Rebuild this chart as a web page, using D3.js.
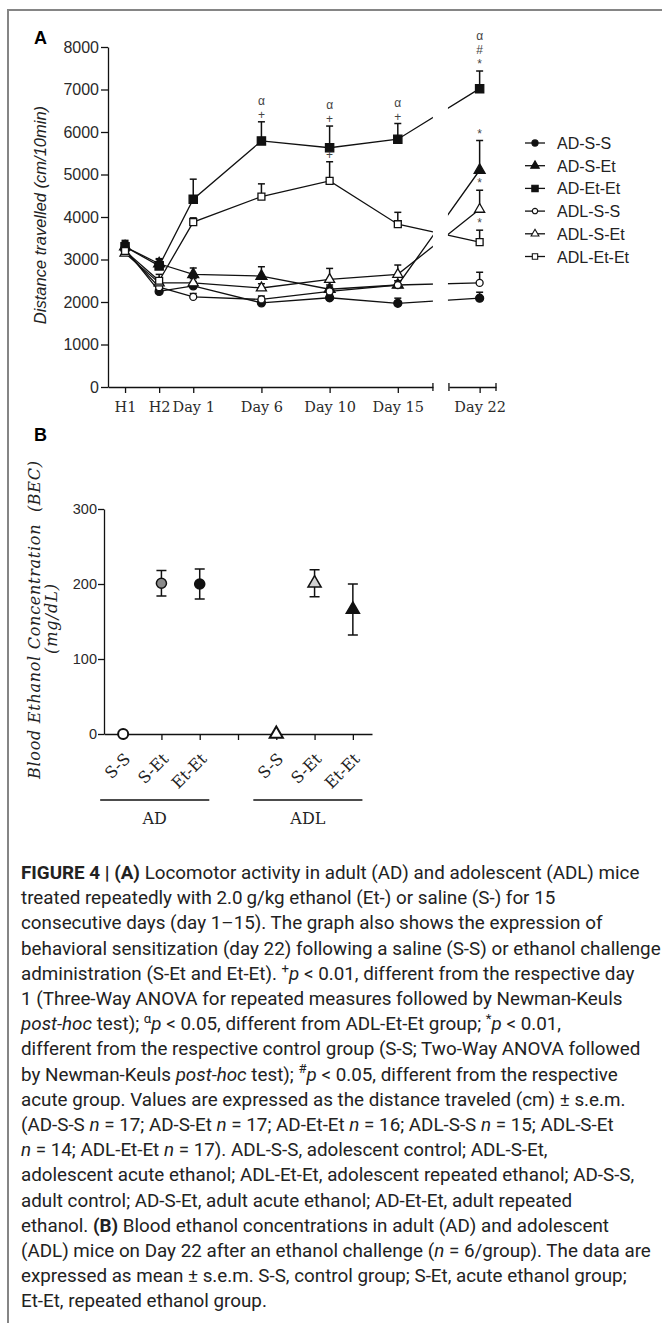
<!DOCTYPE html>
<html>
<head>
<meta charset="utf-8">
<script src="https://cdn.jsdelivr.net/npm/d3@7"></script>
<style>
    body { margin: 0; background: #fff; }
    svg { display: block; }
    .axis path, .axis line { stroke: #111; stroke-width: 1.3; }
    .axis text { fill: #2a2a2a; }
    .caption text { white-space: pre; }
</style>
</head>
<body>
<div id="figure"></div>
<script>
// ---------- Panel A data: distance travelled (cm/10min) ----------
var timeLabels = ["H1", "H2", "Day 1", "Day 6", "Day 10", "Day 15", "Day 22"];
var timeSlots = [1, 2, 3, 5, 7, 9, 11.4];

var groupNames = ["AD-S-S", "AD-S-Et", "AD-Et-Et", "ADL-S-S", "ADL-S-Et", "ADL-Et-Et"];

var adSS       = [3250, 2250, 2380, 1980, 2100, 1970, 2090];
var adSSErr    = [120, 80, 100, 80, 80, 120, 140];
var adSEt      = [3300, 2900, 2650, 2610, 2300, 2400, 5100];
var adSEtErr   = [120, 120, 150, 220, 100, 100, 700];
var adEtEt     = [3300, 2850, 4420, 5790, 5630, 5830, 7020];
var adEtEtErr  = [150, 150, 470, 450, 510, 370, 415];
var adlSS      = [3200, 2350, 2120, 2060, 2250, 2400, 2450];
var adlSSErr   = [100, 100, 80, 80, 100, 100, 250];
var adlSEt     = [3150, 2450, 2450, 2330, 2530, 2650, 4180];
var adlSEtErr  = [100, 100, 100, 100, 260, 220, 450];
var adlEtEt    = [3200, 2500, 3880, 4480, 4850, 3830, 3410];
var adlEtEtErr = [100, 150, 100, 300, 450, 280, 280];

var yTicksA = [0, 1000, 2000, 3000, 4000, 5000, 6000, 7000, 8000];

// significance marks, bottom to top
var sigMarks = [
    { group: "AD-Et-Et", time: "Day 6", marks: ["+", "α"] },
    { group: "AD-Et-Et", time: "Day 10", marks: ["+", "α"] },
    { group: "AD-Et-Et", time: "Day 15", marks: ["+", "α"] },
    { group: "AD-Et-Et", time: "Day 22", marks: ["*", "#", "α"] },
    { group: "ADL-Et-Et", time: "Day 10", marks: ["+"] },
    { group: "AD-S-Et", time: "Day 22", marks: ["*"] },
    { group: "ADL-S-Et", time: "Day 22", marks: ["*"] },
    { group: "ADL-Et-Et", time: "Day 22", marks: ["*"] }
];

// ---------- Panel B data: blood ethanol concentration (mg/dL) ----------
var becGroups = ["AD", "ADL"];
var becConditions = ["S-S", "S-Et", "Et-Et"];
var becAD = [0, 201, 200];
var becADErr = [0, 17, 20];
var becADL = [0, 201, 166];
var becADLErr = [0, 18, 34];
var yTicksB = [0, 100, 200, 300];

// ---------- Caption ----------
var captionLines = [
    "<b>FIGURE 4 | (A)</b> Locomotor activity in adult (AD) and adolescent (ADL) mice",
    "treated repeatedly with 2.0\u2009g/kg ethanol (Et-) or saline (S-) for 15",
    "consecutive days (day 1\u201315). The graph also shows the expression of",
    "behavioral sensitization (day 22) following a saline (S-S) or ethanol challenge",
    "administration (S-Et and Et-Et). <sup>+</sup><i>p</i> < 0.01, different from the respective day",
    "1 (Three-Way ANOVA for repeated measures followed by Newman-Keuls",
    "<i>post-hoc</i> test); <sup>\u03b1</sup><i>p</i> < 0.05, different from ADL-Et-Et group; <sup>*</sup><i>p</i> < 0.01,",
    "different from the respective control group (S-S; Two-Way ANOVA followed",
    "by Newman-Keuls <i>post-hoc</i> test); <sup>#</sup><i>p</i> < 0.05, different from the respective",
    "acute group. Values are expressed as the distance traveled (cm) \u00b1 s.e.m.",
    "(AD-S-S <i>n</i> = 17; AD-S-Et <i>n</i> = 17; AD-Et-Et <i>n</i> = 16; ADL-S-S <i>n</i> = 15; ADL-S-Et",
    "<i>n</i> = 14; ADL-Et-Et <i>n</i> = 17). ADL-S-S, adolescent control; ADL-S-Et,",
    "adolescent acute ethanol; ADL-Et-Et, adolescent repeated ethanol; AD-S-S,",
    "adult control; AD-S-Et, adult acute ethanol; AD-Et-Et, adult repeated",
    "ethanol. <b>(B)</b> Blood ethanol concentrations in adult (AD) and adolescent",
    "(ADL) mice on Day 22 after an ethanol challenge (<i>n</i> = 6/group). The data are",
    "expressed as mean \u00b1 s.e.m. S-S, control group; S-Et, acute ethanol group;",
    "Et-Et, repeated ethanol group."
];

var sans = "'Liberation Sans', Arial, sans-serif";
var serif = "'DejaVu Serif', 'Liberation Serif', serif";

var svgWidth = 662;
var svgHeight = 1323;

var svg = d3.select("#figure")
    .append("svg")
    .attr("width", svgWidth)
    .attr("height", svgHeight);

// frame around the figure (top and left edges)
svg.append("path")
    .attr("d", "M8," + svgHeight + "V10H" + svgWidth)
    .attr("fill", "none")
    .attr("stroke", "#858585")
    .attr("stroke-width", 2);

// =================== PANEL A ===================
var seriesA = {
    "AD-S-S": [adSS, adSSErr],
    "AD-S-Et": [adSEt, adSEtErr],
    "AD-Et-Et": [adEtEt, adEtEtErr],
    "ADL-S-S": [adlSS, adlSSErr],
    "ADL-S-Et": [adlSEt, adlSEtErr],
    "ADL-Et-Et": [adlEtEt, adlEtEtErr]
};

// marker shape per group
var styleA = {
    "AD-S-S": { type: d3.symbolCircle, filled: true, size: 50 },
    "AD-S-Et": { type: d3.symbolTriangle, filled: true, size: 52 },
    "AD-Et-Et": { type: d3.symbolSquare, filled: true, size: 68 },
    "ADL-S-S": { type: d3.symbolCircle, filled: false, size: 38 },
    "ADL-S-Et": { type: d3.symbolTriangle, filled: false, size: 44 },
    "ADL-Et-Et": { type: d3.symbolSquare, filled: false, size: 48 }
};

var breakFrom = 10.03;
var breakTo = 10.5;

var xA = d3.scaleLinear().domain([0.5, 11.88]).range([108, 496]);
var yA = d3.scaleLinear().domain([0, 8000]).range([387, 47]);

var gA = svg.append("g");

gA.append("text")
    .attr("x", 34)
    .attr("y", 44)
    .attr("font-family", sans)
    .attr("font-weight", "bold")
    .attr("font-size", 18)
    .text("A");

// y axis
gA.append("g")
    .attr("class", "axis")
    .attr("transform", "translate(108,0)")
    .call(d3.axisLeft(yA)
        .tickValues(yTicksA)
        .tickFormat(d3.format("d"))
        .tickSize(7)
        .tickSizeOuter(0)
        .tickPadding(2))
    .selectAll("text")
    .attr("font-family", sans)
    .attr("font-size", 16);

// x axis in two pieces with a break before Day 22
var xSeg1 = xA.copy().domain([0.5, breakFrom]).range([xA(0.5), xA(breakFrom)]);
var xSeg2 = xA.copy().domain([breakTo, 11.88]).range([xA(breakTo), xA(11.88)]);

[[xSeg1, timeSlots.slice(0, 6), timeLabels.slice(0, 6)],
 [xSeg2, timeSlots.slice(6), timeLabels.slice(6)]].forEach(function (seg) {
    var ax = gA.append("g")
        .attr("class", "axis")
        .attr("transform", "translate(0,387)")
        .call(d3.axisBottom(seg[0])
            .tickValues(seg[1])
            .tickFormat(function (d, i) { return seg[2][i]; })
            .tickSize(6)
            .tickSizeOuter(0)
            .tickPadding(9));
    ax.selectAll("text")
        .attr("font-family", serif)
        .attr("font-size", 14.5);
    // little end marks at the break
    seg[0].range().forEach(function (px, k) {
        if (seg[0] === xSeg1 && k === 0) return;
        ax.append("line")
            .attr("x1", px).attr("x2", px)
            .attr("y1", -4).attr("y2", 4);
    });
});

gA.append("text")
    .attr("transform", "translate(46,215) rotate(-90)")
    .attr("text-anchor", "middle")
    .attr("font-family", sans)
    .attr("font-style", "italic")
    .attr("font-size", 16.5)
    .attr("fill", "#222")
    .text("Distance travelled (cm/10min)");

// clip the connecting lines at the axis break
var clip = svg.append("defs").append("clipPath").attr("id", "breakClip");
clip.append("rect").attr("x", 0).attr("y", 0).attr("width", xA(breakFrom)).attr("height", 420);
clip.append("rect").attr("x", xA(breakTo) - 1).attr("y", 0).attr("width", 300).attr("height", 420);

var lineA = d3.line()
    .x(function (d, i) { return xA(timeSlots[i]); })
    .y(function (d) { return yA(d); });

var linesGroup = gA.append("g").attr("clip-path", "url(#breakClip)");

groupNames.forEach(function (name) {
    linesGroup.append("path")
        .datum(seriesA[name][0])
        .attr("d", lineA)
        .attr("fill", "none")
        .attr("stroke", "#111")
        .attr("stroke-width", 1.3);
});

// error bars (upper only)
groupNames.forEach(function (name) {
    var vals = seriesA[name][0];
    var errs = seriesA[name][1];
    vals.forEach(function (v, i) {
        var cx = xA(timeSlots[i]);
        var top = yA(v + errs[i]);
        gA.append("line")
            .attr("x1", cx).attr("x2", cx)
            .attr("y1", yA(v)).attr("y2", top)
            .attr("stroke", "#111").attr("stroke-width", 1.5);
        gA.append("line")
            .attr("x1", cx - 3.5).attr("x2", cx + 3.5)
            .attr("y1", top).attr("y2", top)
            .attr("stroke", "#111").attr("stroke-width", 1.5);
    });
});

// markers
groupNames.forEach(function (name) {
    var st = styleA[name];
    gA.append("g").selectAll("path")
        .data(seriesA[name][0])
        .enter()
        .append("path")
        .attr("transform", function (d, i) { return "translate(" + xA(timeSlots[i]) + "," + yA(d) + ")"; })
        .attr("d", d3.symbol().type(st.type).size(st.size))
        .attr("fill", st.filled ? "#111" : "#fff")
        .attr("stroke", "#111")
        .attr("stroke-width", 1.3);
});

// significance symbols
sigMarks.forEach(function (s) {
    var i = timeLabels.indexOf(s.time);
    var v = seriesA[s.group][0][i] + seriesA[s.group][1][i];
    s.marks.forEach(function (m, k) {
        gA.append("text")
            .attr("x", xA(timeSlots[i]))
            .attr("y", yA(v) - 7 - k * 14)
            .attr("text-anchor", "middle")
            .attr("dominant-baseline", "central")
            .attr("font-family", sans)
            .attr("font-size", 12)
            .attr("fill", "#444")
            .text(m);
    });
});

// legend
var legend = gA.append("g").attr("transform", "translate(525,143)");
groupNames.forEach(function (name, i) {
    var row = legend.append("g").attr("transform", "translate(0," + (i * 22.7) + ")");
    row.append("line")
        .attr("x1", 0).attr("x2", 20)
        .attr("stroke", "#111").attr("stroke-width", 1.3);
    row.append("path")
        .attr("transform", "translate(10,0)")
        .attr("d", d3.symbol().type(styleA[name].type).size(styleA[name].size * 0.6))
        .attr("fill", styleA[name].filled ? "#111" : "#fff")
        .attr("stroke", "#111")
        .attr("stroke-width", 1.1);
    row.append("text")
        .attr("x", 32)
        .attr("y", 6)
        .attr("font-family", sans)
        .attr("font-size", 16)
        .attr("fill", "#222")
        .text(name);
});

// =================== PANEL B ===================
var becKeys = [];
becConditions.forEach(function (c) { becKeys.push("AD|" + c); });
becKeys.push("gap");
becConditions.forEach(function (c) { becKeys.push("ADL|" + c); });

var becValues = {};
becConditions.forEach(function (c, i) {
    becValues["AD|" + c] = [becAD[i], becADErr[i]];
    becValues["ADL|" + c] = [becADL[i], becADLErr[i]];
});

var xB = d3.scalePoint().domain(becKeys).range([104, 372]).padding(0.5);
var yB = d3.scaleLinear().domain([0, 300]).range([734, 509]);

var gB = svg.append("g");

gB.append("text")
    .attr("x", 34)
    .attr("y", 441)
    .attr("font-family", sans)
    .attr("font-weight", "bold")
    .attr("font-size", 18)
    .text("B");

gB.append("g")
    .attr("class", "axis")
    .attr("transform", "translate(104,0)")
    .call(d3.axisLeft(yB).tickValues(yTicksB).tickSize(6).tickSizeOuter(0).tickPadding(1))
    .selectAll("text")
    .attr("font-family", sans)
    .attr("font-size", 14.5);

gB.append("g")
    .attr("class", "axis")
    .attr("transform", "translate(0,734)")
    .call(d3.axisBottom(xB).tickSize(6).tickSizeOuter(0).tickFormat(""));

// rotated condition labels
becKeys.filter(function (k) { return k !== "gap"; }).forEach(function (k) {
    gB.append("text")
        .attr("transform", "translate(" + (xB(k) + 8) + ",760) rotate(-45)")
        .attr("text-anchor", "end")
        .attr("font-family", serif)
        .attr("font-size", 16)
        .attr("fill", "#222")
        .text(k.split("|")[1]);
});

// group brackets
becGroups.forEach(function (g) {
    var first = xB(g + "|" + becConditions[0]);
    var last = xB(g + "|" + becConditions[becConditions.length - 1]);
    var x0 = first - xB.step() * 0.6;
    var x1 = last + xB.step() * 0.25;
    gB.append("line")
        .attr("x1", x0).attr("x2", x1)
        .attr("y1", 800).attr("y2", 800)
        .attr("stroke", "#111").attr("stroke-width", 1.5);
    gB.append("text")
        .attr("x", (x0 + x1) / 2)
        .attr("y", 824)
        .attr("text-anchor", "middle")
        .attr("font-family", serif)
        .attr("font-size", 16)
        .attr("fill", "#222")
        .text(g);
});

// y label, two lines
gB.append("text")
    .attr("transform", "translate(40,620) rotate(-90)")
    .attr("text-anchor", "middle")
    .attr("font-family", serif)
    .attr("font-style", "italic")
    .attr("font-size", 16)
    .attr("fill", "#222")
    .attr("textLength", 318)
    .attr("lengthAdjust", "spacing")
    .style("white-space", "pre")
    .text("Blood Ethanol Concentration  (BEC)");

gB.append("text")
    .attr("transform", "translate(57,619) rotate(-90)")
    .attr("text-anchor", "middle")
    .attr("font-family", serif)
    .attr("font-style", "italic")
    .attr("font-size", 16)
    .attr("fill", "#222")
    .attr("textLength", 70)
    .attr("lengthAdjust", "spacing")
    .text("(mg/dL)");

// error bars and markers
var fillB = { "S-S": "#fff", "S-Et": "#8a8a8a", "Et-Et": "#111" };
var fillBAdl = { "S-S": "#fff", "S-Et": "#d2d2d2", "Et-Et": "#111" };

becKeys.filter(function (k) { return k !== "gap"; }).forEach(function (k) {
    var v = becValues[k][0];
    var e = becValues[k][1];
    var cx = xB(k);
    if (e > 0) {
        gB.append("line")
            .attr("x1", cx).attr("x2", cx)
            .attr("y1", yB(v - e)).attr("y2", yB(v + e))
            .attr("stroke", "#111").attr("stroke-width", 1.5);
        [v - e, v + e].forEach(function (ev) {
            gB.append("line")
                .attr("x1", cx - 5).attr("x2", cx + 5)
                .attr("y1", yB(ev)).attr("y2", yB(ev))
                .attr("stroke", "#111").attr("stroke-width", 1.5);
        });
    }
    var group = k.split("|")[0];
    var cond = k.split("|")[1];
    var isAD = group === "AD";
    gB.append("path")
        .attr("transform", "translate(" + cx + "," + yB(v) + ")")
        .attr("d", d3.symbol().type(isAD ? d3.symbolCircle : d3.symbolTriangle).size(isAD ? 80 : 75))
        .attr("fill", isAD ? fillB[cond] : fillBAdl[cond])
        .attr("stroke", "#111")
        .attr("stroke-width", cond === "S-S" ? 2 : 1.5);
});

// =================== CAPTION ===================
var caption = svg.append("g").attr("class", "caption");

function drawCaption(fontSize) {
    caption.selectAll("*").remove();
    caption
        .attr("font-family", "'Liberation Sans Narrow', Roboto, 'Liberation Sans', sans-serif")
        .attr("font-size", fontSize)
        .attr("fill", "#222");
    var shift = fontSize * 0.38;
    captionLines.forEach(function (line, i) {
        var t = caption.append("text")
            .attr("x", 21)
            .attr("y", 879 + i * 25.2);
        var bold = false, italic = false, sup = false, back = 0;
        line.split(/(<\/?(?:b|i|sup)>)/).forEach(function (part) {
            if (part === "<b>") bold = true;
            else if (part === "</b>") bold = false;
            else if (part === "<i>") italic = true;
            else if (part === "</i>") italic = false;
            else if (part === "<sup>") sup = true;
            else if (part === "</sup>") sup = false;
            else if (part.length) {
                var ts = t.append("tspan").text(part);
                if (bold) ts.attr("font-weight", "bold");
                if (italic) ts.attr("font-style", "italic");
                if (sup) {
                    ts.attr("font-size", fontSize * 0.7).attr("dy", -shift);
                    back = shift;
                } else if (back) {
                    ts.attr("dy", back);
                    back = 0;
                }
            }
        });
    });
}

drawCaption(17);
// fit the first caption line to the width seen in the figure
var firstWidth = caption.select("text").node().getComputedTextLength();
drawCaption(Math.max(14, Math.min(20, 17 * 619 / firstWidth)));
</script>
</body>
</html>
